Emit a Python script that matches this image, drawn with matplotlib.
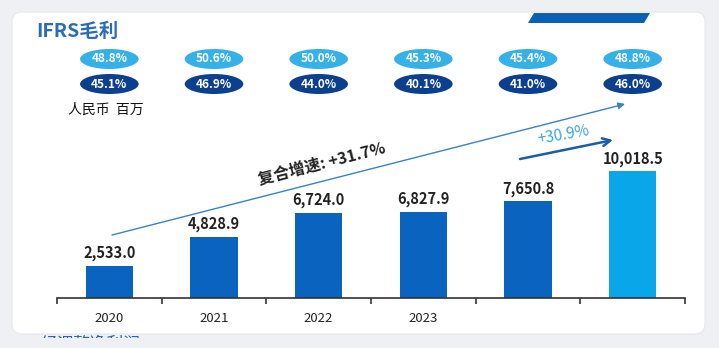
import matplotlib
matplotlib.use("Agg")
import matplotlib.pyplot as plt
from matplotlib.patches import Ellipse, FancyBboxPatch, Polygon, Rectangle
from matplotlib.transforms import blended_transform_factory

plt.rcParams['font.family'] = ['Noto Sans CJK SC', 'DejaVu Sans']

# 毛利（人民币百万）
years = ['2020', '2021', '2022', '2023', '', '']
profit = [2533.0, 4828.9, 6724.0, 6827.9, 7650.8, 10018.5]
margin_top = ['48.8%', '50.6%', '50.0%', '45.3%', '45.4%', '48.8%']
margin_bottom = ['45.1%', '46.9%', '44.0%', '40.1%', '41.0%', '46.0%']
bar_colors = ['#0a64bf'] * 5 + ['#0aa6ea']

W, H = 719, 348
bg = '#eef0f4'
fig = plt.figure(figsize=(W / 100, H / 100), dpi=100)
fig.patch.set_facecolor(bg)

# pixel-space overlay for the card and annotations
ov = fig.add_axes([0, 0, 1, 1], zorder=0)
ov.set_xlim(0, W)
ov.set_ylim(H, 0)
ov.axis('off')

# heading of the next section, partly hidden below
ov.text(40, 344, '经调整净利润', fontsize=12, color='#2566b0', va='center', ha='left',
        zorder=0)
ov.add_patch(Rectangle((0, 338), W, 12, facecolor=bg, edgecolor='none', zorder=1))

card = FancyBboxPatch((12, 12), 693, 322, boxstyle='round,pad=0,rounding_size=10',
                      facecolor='white', edgecolor='#e6e8ee', linewidth=0.8, zorder=1)
ov.add_patch(card)
ov.add_patch(Polygon([[534, 13], [650, 13], [644, 23], [528, 23]], closed=True,
                     facecolor='#0b5fb5', edgecolor='none', zorder=2))

ov.text(36, 31, 'IFRS毛利', fontsize=14, color='#2a6cb6', va='center', ha='left',
        fontweight='bold', zorder=2)
ov.text(68, 110, '人民币  百万', fontsize=10, color='#111111', va='center', ha='left',
        zorder=2)

# bars
ax = fig.add_axes([57 / W, 50 / H, 628 / W, 152 / H], zorder=1)
ax.patch.set_alpha(0)
x = list(range(len(profit)))
bars = ax.bar(x, profit, width=0.45, color=bar_colors)
ax.set_xlim(-0.5, len(profit) - 0.5)
ax.set_ylim(0, 12000)
for xi, v in zip(x, profit):
    ax.text(xi, v + 350, f'{v:,.1f}', ha='center', va='bottom', fontsize=10.5,
            color='#222222', fontweight='bold')

for s in ['top', 'right', 'left']:
    ax.spines[s].set_visible(False)
ax.spines['bottom'].set_color('#333333')
ax.spines['bottom'].set_linewidth(1.2)
ax.set_yticks([])
ax.set_xticks([i - 0.5 for i in range(len(profit) + 1)], minor=False)
ax.set_xticklabels([])
ax.tick_params(axis='x', which='major', direction='out', length=4, width=1.2, color='#333333')
ax.set_xticks(x, minor=True)
ax.set_xticklabels(years, minor=True, fontsize=9.5, color='#222222')
ax.tick_params(axis='x', which='minor', length=0, pad=10)

# margin pills above each category
tr = blended_transform_factory(ax.transData, ov.transData)
for xi, top, bot in zip(x, margin_top, margin_bottom):
    ov.add_patch(Ellipse((xi, 59), 0.56, 20, transform=tr, facecolor='#36b1e8',
                         edgecolor='none', zorder=2))
    ov.add_patch(Ellipse((xi, 84), 0.56, 20, transform=tr, facecolor='#0c3f8e',
                         edgecolor='none', zorder=2))
    ov.text(xi, 59, top, transform=tr, ha='center', va='center', fontsize=8.5,
            color='white', fontweight='bold', zorder=3)
    ov.text(xi, 84, bot, transform=tr, ha='center', va='center', fontsize=8.5,
            color='white', fontweight='bold', zorder=3)

# CAGR arrows
ov.annotate('', xy=(625, 104), xytext=(112, 235),
            arrowprops=dict(arrowstyle='-|>', color='#3b82c0', lw=1.0,
                            mutation_scale=10, shrinkA=0, shrinkB=0), zorder=4)
ov.text(322, 164, '复合增速: +31.7%', fontsize=11.5, rotation=14.3, color='#222222',
        ha='center', va='center', fontweight='bold', zorder=4)

ov.annotate('', xy=(613, 140), xytext=(520, 159),
            arrowprops=dict(arrowstyle='->', color='#1a5ca8', lw=1.8,
                            mutation_scale=14, shrinkA=0, shrinkB=0), zorder=4)
ov.text(563, 135, '+30.9%', fontsize=11, rotation=10, color='#3aa6de',
        ha='center', va='center', zorder=4)

fig.savefig('out.png', dpi=100, facecolor=fig.get_facecolor())
